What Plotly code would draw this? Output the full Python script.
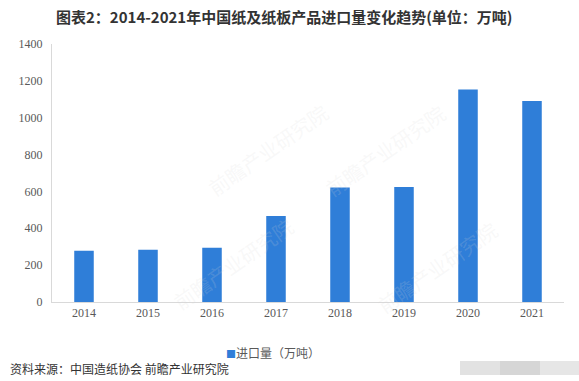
import plotly.graph_objects as go

years = ["2014", "2015", "2016", "2017", "2018", "2019", "2020", "2021"]
imports = [278, 283, 294, 467, 621, 624, 1153, 1091]
y_ticks = [0, 200, 400, 600, 800, 1000, 1200, 1400]

title_text = "图表2：2014-2021年中国纸及纸板产品进口量变化趋势(单位：万吨)"
series_name = "进口量（万吨）"
source_text = "资料来源：中国造纸协会 前瞻产业研究院"
watermark = "前瞻产业研究院"
bar_color = "#2F7ED8"

fig = go.Figure()
fig.add_trace(go.Bar(
    x=years, y=imports, name=series_name,
    marker=dict(color=bar_color, line=dict(width=0)),
    showlegend=False,
))

W, H = 579, 381
L, R, T, B = 52, 15, 44, 79
PW, PH = W - L - R, H - T - B

def px(x):
    return (x - L) / PW

def py(y):
    return (H - B - y) / PH

fig.update_layout(
    width=W, height=H,
    margin=dict(l=L, r=R, t=T, b=B, autoexpand=False),
    paper_bgcolor="white", plot_bgcolor="white",
    bargap=0.695,
    showlegend=False,
    font=dict(family="Noto Sans CJK SC"),
)
fig.update_xaxes(
    showline=True, linecolor="#D9D9D9", linewidth=1,
    showgrid=False, ticks="",
    tickfont=dict(family="Liberation Serif", size=12, color="#595959"),
)
fig.update_yaxes(
    range=[0, 1400], tickvals=y_ticks, ticktext=[str(v) for v in y_ticks],
    showline=True, linecolor="#D9D9D9", linewidth=1,
    showgrid=False, zeroline=False, ticks="",
    tickfont=dict(family="Liberation Serif", size=12, color="#595959"),
    ticklabelstandoff=6,
)

# watermarks
for (wx, wy) in [(200, 95), (385, 150), (165, 318), (505, 322)]:
    fig.add_annotation(
        text=watermark, xref="paper", yref="paper", x=px(wx), y=py(wy),
        showarrow=False, textangle=-35,
        font=dict(family="Noto Sans CJK SC", size=20, color="rgba(215,215,215,0.18)"),
    )

fig.add_annotation(
    text="<b>" + title_text + "</b>", xref="paper", yref="paper",
    x=px(284), y=py(16.5),
    xanchor="center", yanchor="middle", showarrow=False,
    font=dict(family="Noto Sans CJK SC", size=15, color="#333333"),
)
# legend
fig.add_annotation(
    text="<span style='color:%s;font-size:10px'>■</span>%s" % (bar_color, series_name),
    xref="paper", yref="paper", x=px(224), y=py(352),
    xanchor="left", yanchor="middle", showarrow=False,
    font=dict(family="Noto Sans CJK SC", size=12, color="#595959"),
)
fig.add_annotation(
    text=source_text, xref="paper", yref="paper",
    x=px(8), y=py(368),
    xanchor="left", yanchor="middle", showarrow=False,
    font=dict(family="Noto Sans CJK SC", size=12, color="#333333"),
)
# blurred block bottom right
for (x0, x1, c) in [(460, 500, "#E2E2E2"), (500, 540, "#D6D6D6"), (540, 579, "#E6E6E6")]:
    fig.add_shape(type="rect", xref="paper", yref="paper",
                  x0=px(x0), x1=px(x1), y0=py(375), y1=py(361),
                  fillcolor=c, line=dict(width=0), layer="above")

fig.write_html("out.html", config={"displayModeBar": False},
               post_script="document.body.style.margin='0';document.body.style.overflow='hidden';")
